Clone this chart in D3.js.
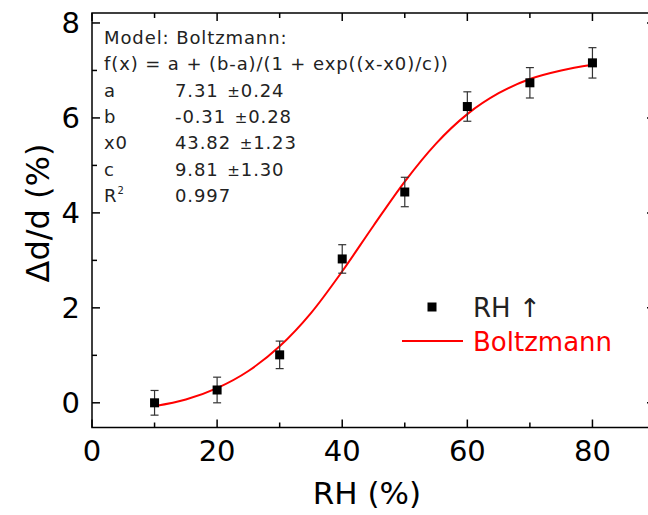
<!DOCTYPE html>
<html>
<head>
<meta charset="utf-8">
<script src="https://cdn.jsdelivr.net/npm/d3@7"></script>
<style>
  body { margin: 0; background: #fff; }
  text { font-family: "DejaVu Sans", Verdana, sans-serif; }
</style>
</head>
<body>
<script>
// measured points
const rh = [10, 20, 30, 40, 50, 60, 70, 80]
const dd = [0.0, 0.27, 1.01, 3.03, 4.44, 6.24, 6.74, 7.16]
const err = [0.26, 0.27, 0.29, 0.3, 0.31, 0.31, 0.32, 0.32]

// fitted curve
const fitX = [10, 15, 20, 25, 30, 35, 40, 45, 50, 55, 60, 65, 70, 75, 80]
const fitY = [-0.07, 0.07, 0.31, 0.67, 1.19, 1.89, 2.77, 3.73, 4.66, 5.46, 6.08, 6.52, 6.82, 7.0, 7.12]

const xTicks = [0, 20, 40, 60, 80]
const yTicks = [0, 2, 4, 6, 8]

const fitLines = [
    ['Model: Boltzmann:', ''],
    ['f(x) = a + (b-a)/(1 + exp((x-x0)/c))', ''],
    ['a', '7.31 ±0.24'],
    ['b', '-0.31 ±0.28'],
    ['x0', '43.82 ±1.23'],
    ['c', '9.81 ±1.30'],
    ['R²', '0.997']
]

const w = 648
const h = 515
const pL = 92, pR = 655, pT = 13, pB = 427.5

const xScale = d3.scaleLinear().domain([0, 90]).range([pL, pR])
const yScale = d3.scaleLinear().domain([-0.52, 8.21]).range([pB, pT])

const svg = d3.select('body').append('svg')
    .attr('width', w)
    .attr('height', h)

// frame
svg.append('rect')
    .attr('x', pL).attr('y', pT)
    .attr('width', pR - pL).attr('height', pB - pT)
    .attr('fill', 'none').attr('stroke', '#000').attr('stroke-width', 1.5)

// ticks pointing inwards on all four sides
const xMinor = d3.range(10, 90, 20)
const yMinor = d3.range(1, 8, 2)
const tickGroup = svg.append('g').attr('stroke', '#000').attr('stroke-width', 1.5)
xTicks.concat(xMinor).forEach(v => {
    const len = xTicks.includes(v) ? 8 : 5
    tickGroup.append('line').attr('x1', xScale(v)).attr('x2', xScale(v)).attr('y1', pB).attr('y2', pB - len)
    tickGroup.append('line').attr('x1', xScale(v)).attr('x2', xScale(v)).attr('y1', pT).attr('y2', pT + len)
})
yTicks.concat(yMinor).forEach(v => {
    const len = yTicks.includes(v) ? 8 : 5
    tickGroup.append('line').attr('y1', yScale(v)).attr('y2', yScale(v)).attr('x1', pL).attr('x2', pL + len)
    tickGroup.append('line').attr('y1', yScale(v)).attr('y2', yScale(v)).attr('x1', pR).attr('x2', pR - len)
})

// tick labels
svg.selectAll('.xlab').data(xTicks).enter().append('text')
    .attr('x', d => xScale(d))
    .attr('y', 461)
    .attr('text-anchor', 'middle')
    .attr('font-size', 29)
    .text(d => d)

svg.selectAll('.ylab').data(yTicks).enter().append('text')
    .attr('x', 80)
    .attr('y', d => yScale(d) + 10.5)
    .attr('text-anchor', 'end')
    .attr('font-size', 29)
    .text(d => d)

// axis titles
svg.append('text')
    .attr('x', 367).attr('y', 504)
    .attr('text-anchor', 'middle')
    .attr('font-size', 31)
    .text('RH (%)')

svg.append('text')
    .attr('transform', 'translate(49,213) rotate(-90)')
    .attr('text-anchor', 'middle')
    .attr('font-size', 32)
    .text('Δd/d (%)')

// fit curve
const line = d3.line()
    .x(d => xScale(d[0]))
    .y(d => yScale(d[1]))
    .curve(d3.curveMonotoneX)

svg.append('path')
    .datum(fitX.map((x, i) => [x, fitY[i]]))
    .attr('d', line)
    .attr('fill', 'none')
    .attr('stroke', '#ff0000')
    .attr('stroke-width', 2)

// error bars
const eb = svg.append('g').attr('stroke', '#333').attr('stroke-width', 1.2)
rh.forEach((x, i) => {
    const cx = xScale(x)
    const y1 = yScale(dd[i] - err[i])
    const y2 = yScale(dd[i] + err[i])
    eb.append('line').attr('x1', cx).attr('x2', cx).attr('y1', y1).attr('y2', y2)
    eb.append('line').attr('x1', cx - 4).attr('x2', cx + 4).attr('y1', y1).attr('y2', y1)
    eb.append('line').attr('x1', cx - 4).attr('x2', cx + 4).attr('y1', y2).attr('y2', y2)
})

// points
const s = 9
svg.selectAll('.pt').data(rh).enter().append('rect')
    .attr('x', d => xScale(d) - s / 2)
    .attr('y', (d, i) => yScale(dd[i]) - s / 2)
    .attr('width', s).attr('height', s)
    .attr('fill', '#000')

// fit parameters box
const info = svg.append('g').attr('font-size', 18).attr('letter-spacing', 0.9).attr('fill', '#222')
fitLines.forEach((row, i) => {
    const y = 44 + i * 26.3
    const t = info.append('text').attr('x', 104).attr('y', y)
    if (row[0] === 'R²') {
        t.text('R')
        t.append('tspan').attr('font-size', 10).attr('dy', -8).text('2')
    } else {
        t.text(row[0])
    }
    if (row[1]) {
        const parts = row[1].split('±')
        const v = info.append('text').attr('x', 175).attr('y', y).text(parts[0])
        if (parts.length > 1) {
            v.append('tspan').attr('font-size', 15).attr('dx', 2).text('±')
            v.append('tspan').text(parts[1])
        }
    }
})

// legend
svg.append('rect')
    .attr('x', 432 - s / 2).attr('y', 307 - s / 2)
    .attr('width', s).attr('height', s).attr('fill', '#000')
svg.append('text')
    .attr('x', 473).attr('y', 317)
    .attr('font-size', 26)
    .attr('fill', '#222')
    .text('RH ↑')
svg.append('line')
    .attr('x1', 402).attr('x2', 463).attr('y1', 341).attr('y2', 341)
    .attr('stroke', '#ff0000').attr('stroke-width', 2)
svg.append('text')
    .attr('x', 473).attr('y', 351)
    .attr('font-size', 26)
    .attr('fill', '#ff0000')
    .text('Boltzmann')
</script>
</body>
</html>
